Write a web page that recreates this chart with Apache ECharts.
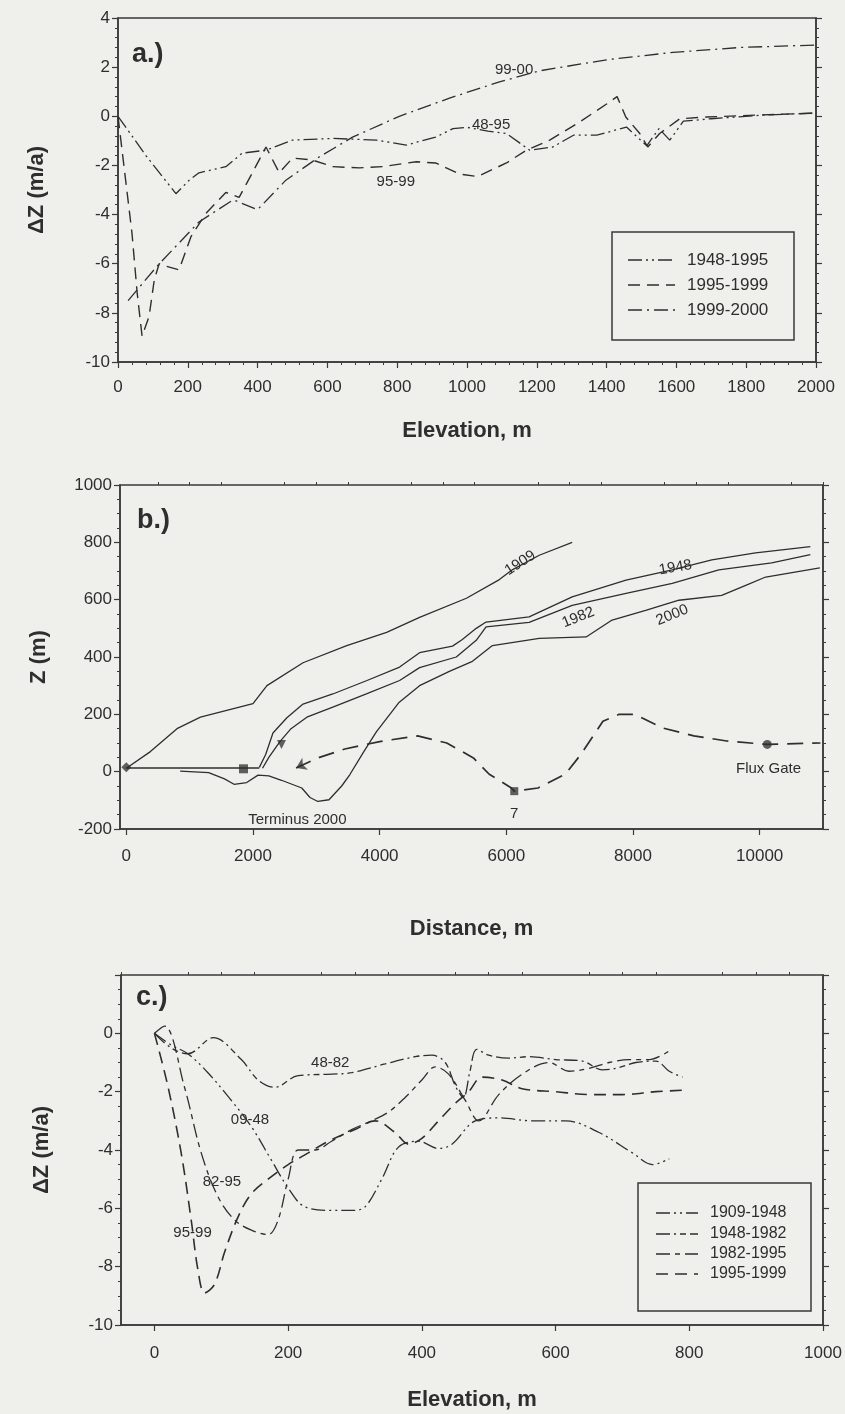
<!DOCTYPE html>
<html><head><meta charset="utf-8">
<script src="https://cdn.jsdelivr.net/npm/echarts@6/dist/echarts.min.js"></script>
<style>html,body{margin:0;padding:0;background:#efefec}#c{width:845px;height:1414px}</style>
</head><body><div id="c"></div><script>
// ---------------- DATA ----------------
// Panel a: dZ (m/a) vs elevation (m)
const a_1948_1995 = [[0,0],[80,-1.6],[166,-3.15],[204,-2.6],[232,-2.3],[309,-2.05],[356,-1.5],[424,-1.38],[500,-0.97],[615,-0.9],[740,-0.97],[826,-1.17],[910,-0.85],[960,-0.5],[1000,-0.45],[1060,-0.6],[1113,-0.7],[1180,-1.38],[1246,-1.25],[1305,-0.77],[1372,-0.77],[1457,-0.44],[1515,-1.2],[1550,-0.5],[1581,-0.97],[1620,-0.2],[1700,-0.1],[1850,0.05],[2000,0.13]];
const a_1995_1999 = [[0,0],[40,-4.75],[55,-7.2],[69,-8.95],[89,-8.15],[104,-6.65],[118,-6.0],[138,-6.1],[175,-6.25],[209,-4.9],[252,-3.95],[309,-3.1],[347,-3.3],[385,-2.3],[424,-1.25],[462,-2.3],[500,-1.7],[557,-1.78],[615,-2.05],[692,-2.1],[758,-2.05],[855,-1.85],[910,-1.9],[978,-2.35],[1030,-2.45],[1113,-1.9],[1170,-1.38],[1237,-0.97],[1323,-0.23],[1400,0.5],[1430,0.8],[1455,-0.03],[1495,-0.7],[1518,-1.25],[1552,-0.7],[1610,-0.1],[1686,-0.03],[1830,0.05],[2000,0.13]];
const a_1999_2000 = [[29,-7.5],[112,-6.1],[232,-4.3],[330,-3.4],[400,-3.8],[481,-2.6],[577,-1.65],[672,-0.85],[806,0],[950,0.74],[1093,1.4],[1208,1.85],[1400,2.3],[1590,2.6],[1782,2.8],[2000,2.9]];
const aXTickLabels = [0,200,400,600,800,1000,1200,1400,1600,1800,2000];
const aYTickLabels = [-10,-8,-6,-4,-2,0,2,4];

// Panel b: surface profiles Z (m) vs distance (m)
const b_1909 = [[0,12],[380,70],[800,150],[1170,190],[2000,237],[2220,300],[2790,380],[3480,440],[4110,486],[4630,538],[5370,605],[5890,670],[6100,705],[6520,755],[7040,800]];
const b_1948 = [[2100,15],[2200,60],[2315,135],[2535,188],[2790,236],[3260,271],[3800,318],[4315,365],[4630,415],[5150,438],[5300,460],[5525,500],[5680,522],[6360,540],[7040,610],[7890,668],[8620,704],[9245,739],[9935,763],[10800,785]];
const b_1982 = [[2150,12],[2250,50],[2425,105],[2600,150],[2850,190],[3260,225],[3800,272],[4315,318],[4630,363],[5210,400],[5525,458],[5680,505],[6360,521],[7040,580],[7890,622],[8620,657],[9355,704],[10190,728],[10800,757]];
const b_2000 = [[850,2],[1300,-3],[1550,-25],[1700,-44],[1900,-38],[2080,-12],[2250,-15],[2450,-30],[2770,-57],[2900,-90],[3024,-104],[3200,-98],[3400,-50],[3530,-10],[3750,70],[3950,140],[4300,240],[4630,300],[5100,350],[5465,385],[5780,440],[6520,465],[7260,470],[7670,529],[8200,563],[8725,598],[9400,615],[9780,650],[10095,679],[10950,711]];
const b_lake = [[0,13],[2100,13]];
const b_bed = [[2680,13],[3050,50],[3450,79],[4000,105],[4600,125],[5060,100],[5480,48],[5730,-9],[6080,-57],[6125,-68],[6500,-57],[6930,-9],[7180,61],[7525,176],[7780,200],[8030,200],[8460,153],[8960,125],[9480,107],[10120,95],[10960,100]];
const b_markers = [[0,15],[1850,10],[2450,95],[2680,13],[6125,-68],[10120,95]];
const bXTickLabels = [0,2000,4000,6000,8000,10000];
const bYTickLabels = [-200,0,200,400,600,800,1000];

// Panel c: dZ (m/a) vs elevation (m)
const c_1909_1948 = [[0,0],[25,-0.4],[50,-0.7],[80,-1.35],[115,-2.3],[145,-3.2],[175,-4.35],[200,-5.3],[225,-5.95],[265,-6.07],[295,-6.07],[315,-5.95],[340,-5.0],[365,-3.9],[395,-3.7],[425,-3.95],[445,-3.8],[480,-3.0],[515,-2.9],[565,-3.0],[615,-3.0],[665,-3.4],[715,-4.1],[745,-4.5],[770,-4.3]];
const c_1948_1982 = [[0,0],[25,-0.5],[50,-0.7],[88,-0.15],[130,-0.9],[155,-1.6],[180,-1.85],[215,-1.45],[265,-1.4],[295,-1.35],[345,-1.05],[390,-0.8],[415,-0.75],[435,-1.0],[450,-1.8],[462,-2.2],[472,-1.3],[482,-0.55],[500,-0.75],[530,-0.85],[560,-0.8],[600,-0.9],[640,-0.95],[670,-1.25],[690,-1.2],[720,-1.0],[750,-0.95],[770,-1.3],[790,-1.5]];
const c_1982_1995 = [[0,0],[15,0.25],[45,-1.85],[70,-4.1],[95,-5.6],[120,-6.4],[145,-6.75],[170,-6.9],[185,-6.4],[200,-5.0],[215,-4.0],[240,-4.0],[265,-3.7],[295,-3.3],[325,-3.0],[350,-2.7],[375,-2.2],[400,-1.6],[420,-1.15],[440,-1.4],[465,-2.3],[485,-3.0],[515,-2.1],[550,-1.4],[590,-1.0],[620,-1.3],[650,-1.2],[680,-1.0],[710,-0.9],[740,-0.9],[770,-0.6]];
const c_1995_1999 = [[0,0],[20,-1.8],[40,-4.1],[55,-6.4],[65,-8.1],[75,-8.9],[90,-8.6],[105,-7.5],[125,-6.3],[145,-5.5],[170,-5.0],[200,-4.5],[230,-4.1],[260,-3.7],[300,-3.3],[330,-3.0],[360,-3.4],[380,-3.8],[400,-3.6],[425,-3.0],[450,-2.4],[470,-2.0],[490,-1.5],[520,-1.6],[550,-1.9],[600,-2.0],[650,-2.1],[700,-2.1],[750,-2.0],[790,-1.95]];
const cXTickLabels = [0,200,400,600,800,1000];
const cYTickLabels = [-10,-8,-6,-4,-2,0];

// curve annotations (data coordinates)
const aNotes = [['99-00',[1135,1.9]],['48-95',[1069,-0.36]],['95-99',[796,-2.68]]];
const bNotes = [['1909',[6220,728],33],['1948',[8670,712],10],['1982',[7136,538],22],['2000',[8620,546],22],['Terminus 2000',[2700,-167],0],['7',[6125,-146],0],['Flux Gate',[10140,9],0]];
const cNotes = [['48-82',[263,-1.0]],['09-48',[143,-2.97]],['82-95',[101,-5.1]],['95-99',[57,-6.85]]];

// ---------------- STYLE ----------------
const FONT = '"Liberation Sans", Arial, Helvetica, sans-serif';
const INK = '#2e2e2e';
const AX = '#3a3a3a';
const DASH = {
  dashDotDot: [14,4,2,4,2,4],
  dashed: [12,7],
  dashDot: [14,5,2,5],
  dashDotShort: [14,4,2,4,6,4],
  longShort: [14,5,5,5],
  bed: [16,9]
};

const chart = echarts.init(document.getElementById('c'), null, {renderer:'canvas'});

function minorList(min, max, step, majorStep) {
  const out = [];
  for (let v = Math.ceil(min/step)*step; v <= max + 1e-9; v += step) {
    if (Math.abs(v / majorStep - Math.round(v / majorStep)) > 1e-6) out.push(v);
  }
  return out;
}

const plain = v => String(v);
const lbl = {fontSize:17, color:INK, fontFamily:FONT, formatter:plain};
const nameStyle = {fontSize:22, fontWeight:'bold', color:INK, fontFamily:FONT};
const axLine = {show:true, onZero:false, lineStyle:{color:AX, width:1.5}};

function valAxis(extra) {
  return Object.assign({
    type:'value', splitLine:{show:false}, axisLine:axLine,
    axisTick:{show:true, length:6, lineStyle:{color:AX, width:1.2}},
    minorTick:{show:false}, axisLabel:Object.assign({margin:10, showMinLabel:true, showMaxLabel:true}, lbl)
  }, extra);
}

const grids = [
  {left:118, right:29, top:18, height:344},
  {left:120, right:22, top:485, height:344},
  {left:121, right:22, top:975, height:350}
].map(g => Object.assign({show:true, borderColor:AX, borderWidth:1.5, backgroundColor:'transparent', containLabel:false}, g));

const xAxes = [
  valAxis({gridIndex:0, min:0, max:2000, interval:200,
    minorTick:{show:true, splitNumber:5, length:3, lineStyle:{color:AX}},
    axisLabel:Object.assign({margin:17, showMinLabel:true, showMaxLabel:true}, lbl),
    name:'Elevation, m', nameLocation:'middle', nameGap:58, nameTextStyle:nameStyle}),
  valAxis({gridIndex:1, min:-100, max:11000,
    axisTick:{show:true, length:6, customValues:bXTickLabels, lineStyle:{color:AX, width:1.2}},
    axisLabel:Object.assign({margin:19, customValues:bXTickLabels}, lbl),
    name:'Distance, m', nameLocation:'middle', nameGap:89, nameTextStyle:nameStyle}),
  valAxis({gridIndex:1, min:-100, max:11000, axisLine:{show:false, onZero:false},
    axisTick:{show:true, length:3, customValues:minorList(-100,11000,500,2000), lineStyle:{color:AX}},
    axisLabel:{show:false}}),
  valAxis({gridIndex:2, min:-50, max:1000,
    axisTick:{show:true, length:6, customValues:cXTickLabels, lineStyle:{color:AX, width:1.2}},
    axisLabel:Object.assign({margin:20, customValues:cXTickLabels}, lbl),
    name:'Elevation, m', nameLocation:'middle', nameGap:64, nameTextStyle:nameStyle}),
  valAxis({gridIndex:2, min:-50, max:1000, axisLine:{show:false, onZero:false},
    axisTick:{show:true, length:3, customValues:minorList(-50,1000,50,200), lineStyle:{color:AX}},
    axisLabel:{show:false}})
];

function yPair(gi, min, max, interval, split, name, gap, showMax) {
  return [
    valAxis({gridIndex:gi, min, max, interval, position:'left',
      minorTick:{show:true, splitNumber:split, length:3, lineStyle:{color:AX}},
      axisLabel:Object.assign({margin:8, showMinLabel:true, showMaxLabel:showMax}, lbl),
      name, nameLocation:'middle', nameGap:gap, nameRotate:90, nameTextStyle:nameStyle}),
    valAxis({gridIndex:gi, min, max, interval, position:'right',
      minorTick:{show:true, splitNumber:split, length:3, lineStyle:{color:AX}},
      axisLabel:{show:false}})
  ];
}
const yAxes = [].concat(
  yPair(0, -10, 4, 2, 5, 'ΔZ (m/a)', 70, true),
  yPair(1, -200, 1000, 200, 4, 'Z (m)', 70, true),
  yPair(2, -10, 2, 2, 4, 'ΔZ (m/a)', 68, false)
);

function line(name, data, xi, yi, dash, width, smooth) {
  return {name, type:'line', data, xAxisIndex:xi, yAxisIndex:yi, showSymbol:false, symbol:'none',
    smooth: smooth || false, animation:false, silent:true,
    lineStyle:{color:INK, width: width || 1.3, type: dash || 'solid'}};
}

const markerSymbols = ['diamond','rect','triangle','arrow','rect','circle'];
const markerRot = [0,0,180,115,0,0];
const markerSize = [10,9,9,10,8,9];

const series = [
  line('1948-1995', a_1948_1995, 0, 0, DASH.dashDotDot),
  line('1995-1999', a_1995_1999, 0, 0, DASH.dashed, 1.4),
  line('1999-2000', a_1999_2000, 0, 0, DASH.dashDot),
  line('1909', b_1909, 1, 2),
  line('1948', b_1948, 1, 2),
  line('1982', b_1982, 1, 2),
  line('2000', b_2000, 1, 2),
  line('lake', b_lake, 1, 2, 'solid', 1.6),
  line('bed', b_bed, 1, 2, DASH.bed, 1.7),
  {type:'scatter', xAxisIndex:1, yAxisIndex:2, animation:false, silent:true,
    data: b_markers.map((p,i) => ({value:p, symbol:markerSymbols[i], symbolRotate:markerRot[i], symbolSize:markerSize[i]})),
    itemStyle:{color:'#3a3a3a'}},
  line('1909-1948', c_1909_1948, 3, 4, DASH.dashDotDot, 1.3, 0.35),
  line('1948-1982', c_1948_1982, 3, 4, DASH.dashDotShort, 1.3, 0.35),
  line('1982-1995', c_1982_1995, 3, 4, DASH.longShort, 1.3, 0.35),
  line('1995-1999', c_1995_1999, 3, 4, DASH.dashed, 1.6, 0.35)
];

chart.setOption({
  backgroundColor:'#efefec',
  animation:false,
  grid:grids, xAxis:xAxes, yAxis:yAxes, series
});

// ---------- annotations & legends ----------
const g = [];
function note(xi, yi, arr, size) {
  arr.forEach(n => {
    const p = chart.convertToPixel({xAxisIndex:xi, yAxisIndex:yi}, n[1]);
    g.push({type:'text', x:p[0], y:p[1], rotation:(n[2]||0)*Math.PI/180, silent:true,
      style:{text:n[0], fill:INK, font:(size||15)+'px '+FONT, align:'center', verticalAlign:'middle'}});
  });
}
note(0, 0, aNotes, 15);
note(1, 2, bNotes, 15);
note(3, 4, cNotes, 15);

function panelLabel(t, x, y) {
  g.push({type:'text', x, y, silent:true,
    style:{text:t, fill:INK, font:'bold 27px '+FONT, align:'left', verticalAlign:'middle'}});
}
panelLabel('a.)', 132, 55);
panelLabel('b.)', 137, 521);
panelLabel('c.)', 136, 998);

function legend(box, rows, x1, x2, tx, fs) {
  g.push({type:'rect', shape:{x:box[0], y:box[1], width:box[2], height:box[3]}, silent:true,
    style:{fill:'transparent', stroke:AX, lineWidth:1.5}});
  rows.forEach(r => {
    g.push({type:'line', shape:{x1, y1:r[1], x2, y2:r[1]}, silent:true,
      style:{stroke:INK, lineWidth:r[3]||1.3, lineDash:r[2]}});
    g.push({type:'text', x:tx, y:r[1], silent:true,
      style:{text:r[0], fill:INK, font:fs+'px '+FONT, align:'left', verticalAlign:'middle'}});
  });
}
legend([612,232,182,108], [['1948-1995',260,DASH.dashDotDot],['1995-1999',285,DASH.dashed,1.5],['1999-2000',310,DASH.dashDot]], 628, 675, 687, 17);
legend([638,1183,173,128], [['1909-1948',1213,DASH.dashDotDot],['1948-1982',1234,DASH.dashDotShort],['1982-1995',1254,DASH.longShort],['1995-1999',1274,DASH.dashed,1.7]], 656, 698, 710, 16);

chart.setOption({graphic:g});
</script></body></html>
